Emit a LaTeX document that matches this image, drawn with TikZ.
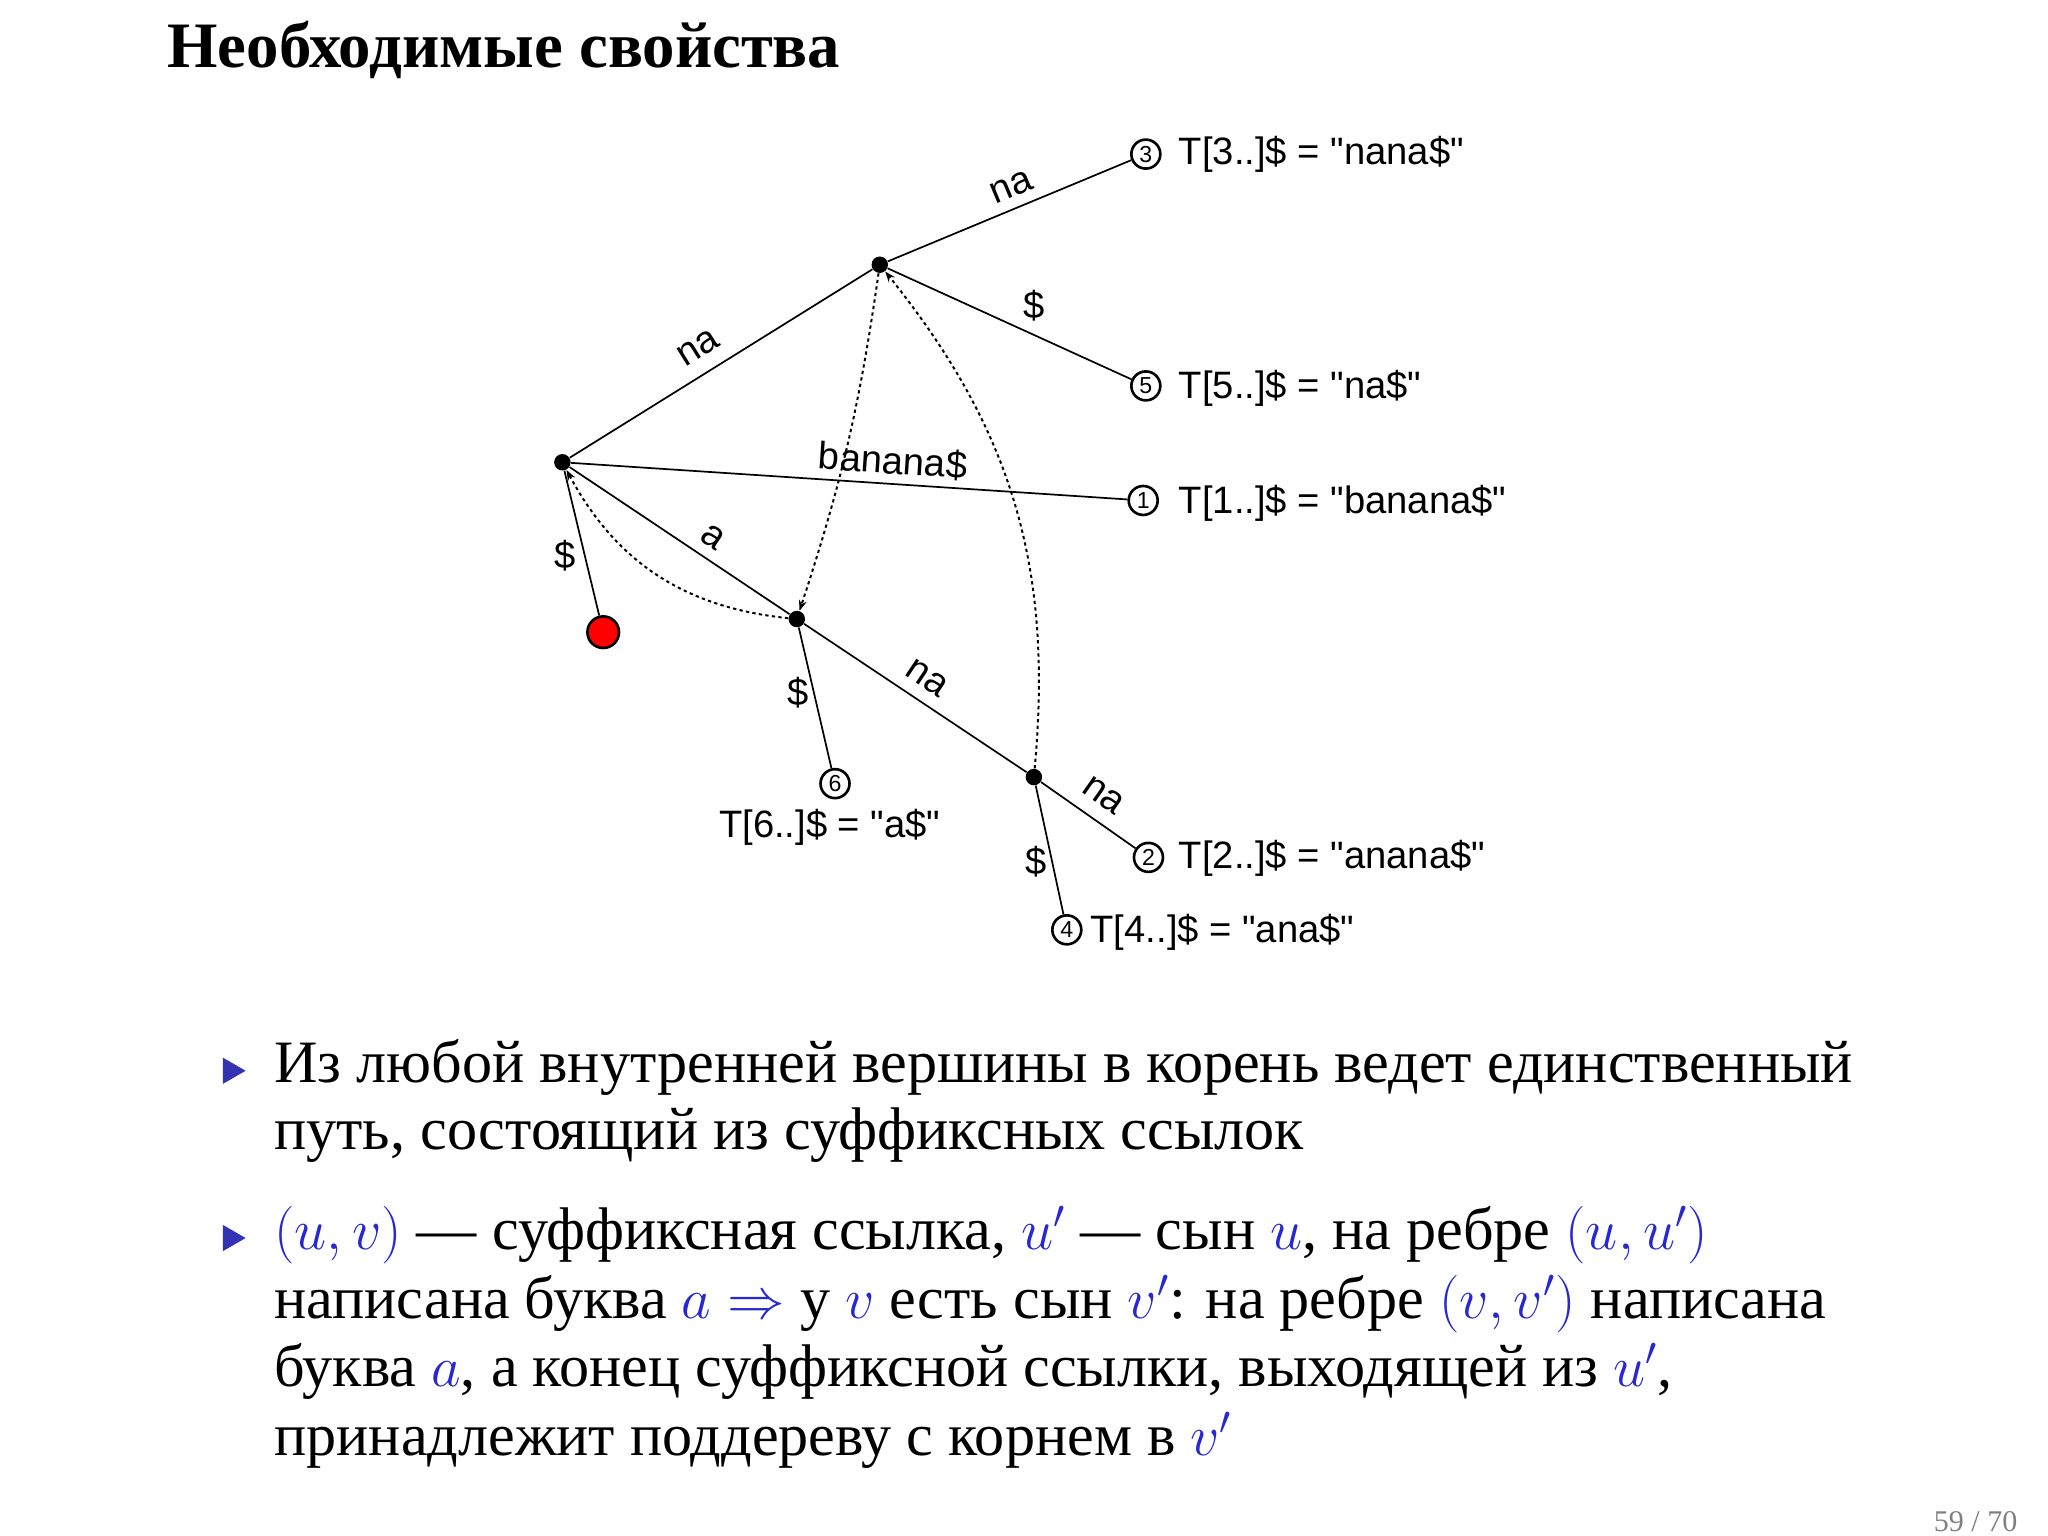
\documentclass[tikz,border=0pt]{standalone}
\usepackage{fontspec}
\setmainfont{Liberation Serif}
\newfontfamily\lsans{Liberation Sans}
\usetikzlibrary{arrows.meta,shapes.geometric}
\definecolor{bl}{RGB}{40,40,210}
\definecolor{tri}{RGB}{51,51,179}
\newcommand{\bm}[1]{{\color{bl}$#1$}}
\tikzset{
 dot/.style={circle,fill=black,inner sep=0pt,minimum size=0.25cm},
 leaf/.style={circle,draw,line width=0.04cm,inner sep=0pt,minimum size=0.44cm,font=\lsans\fontsize{10}{10}\selectfont},
 lab/.style={font=\lsans\fontsize{16.5}{18}\selectfont,inner sep=1pt},
 edge/.style={line width=0.026cm},
 link/.style={dash pattern=on 0.05cm off 0.05cm,line width=0.03cm,-{Stealth[length=0.16cm,width=0.12cm]}},
 body/.style={anchor=base west,font=\fontsize{26}{30}\selectfont,inner sep=0pt},
 bul/.style={fill=tri,draw=none,regular polygon,regular polygon sides=3,shape border rotate=-90,inner sep=0pt,minimum size=0.46cm}
}
\begin{document}
\begin{tikzpicture}[x=0.02cm,y=-0.02cm]
\useasboundingbox (0,0) rectangle (1555,1166);
\node[anchor=west,font=\bfseries\fontsize{28}{32}\selectfont] (title) at (121,38) {Необходимые свойства};
% nodes
\node[dot] (r) at (427,351) {};
\node[dot] (A) at (668,201) {};
\node[dot] (B) at (605,470) {};
\node[dot] (C) at (785,590) {};
\node[leaf] (l3) at (870,117) {3};
\node[leaf] (l5) at (870,293) {5};
\node[leaf] (l1) at (868,380) {1};
\node[leaf] (l6) at (634,595) {6};
\node[leaf] (l2) at (872,651) {2};
\node[leaf] (l4) at (810,706) {4};
\node[circle,draw,fill=red,line width=0.04cm,minimum size=0.48cm,inner sep=0pt] (red) at (458,480) {};
\draw[edge] (r)--(A); \draw[edge] (A)--(l3); \draw[edge] (A)--(l5);
\draw[edge] (r)--(l1); \draw[edge] (r)--(B); \draw[edge] (r)--(red);
\draw[edge] (B)--(l6); \draw[edge] (B)--(C); \draw[edge] (C)--(l2); \draw[edge] (C)--(l4);
% links
\draw[link] (A) to[bend left=5] (B);
\draw[link] (C) to[bend right=22] (A);
\draw[link] (B) to[bend left=28] (r);
% edge labels
\node[lab,rotate=22.6] (e1) at (768,142) {na};
\node[lab] (e2) at (785,232) {\$};
\node[lab,rotate=32] (e3) at (530,264) {na};
\node[lab,rotate=-3.8] (e4) at (678,350) {banana\$};
\node[lab,rotate=-33.8] (e5) at (541,408) {a};
\node[lab] (e6) at (429,422) {\$};
\node[lab] (e7) at (606,526) {\$};
\node[lab,rotate=-33.8] (e8) at (704,515) {na};
\node[lab,rotate=-35] (e9) at (838,604) {na};
\node[lab] (e10) at (787,654) {\$};
% leaf labels
\node[lab,anchor=west] (t3) at (893,117) {T[3..]\$ = "nana\$"};
\node[lab,anchor=west] (t5) at (893,295) {T[5..]\$ = "na\$"};
\node[lab,anchor=west] (t1) at (893,382) {T[1..]\$ = "banana\$"};
\node[lab] (t6) at (630,628) {T[6..]\$ = "a\$"};
\node[lab,anchor=west] (t2) at (893,652) {T[2..]\$ = "anana\$"};
\node[lab,anchor=west] (t4) at (826,708) {T[4..]\$ = "ana\$"};
% bullets
\node[bul] (b1) at (175,813) {};
\node[bul] (b2) at (175,940) {};
\node[body] (p1) at (208,822) {Из любой внутренней вершины в корень ведет единственный};
\node[body] (p2) at (208,873) {путь, состоящий из суффиксных ссылок};
\node[body] (p3) at (208,949) {\bm{(u,v)} — суффиксная ссылка, \bm{u'} — сын \bm{u}, на ребре \bm{(u,u')}};
\node[body] (p4) at (208,1001) {написана буква \bm{a\Rightarrow} у \bm{v} есть сын \bm{v'}: на ребре \bm{(v,v')} написана};
\node[body] (p5) at (208,1053) {буква \bm{a}, а конец суффиксной ссылки, выходящей из \bm{u'},};
\node[body] (p6) at (208,1105) {принадлежит поддереву с корнем в \bm{v'}};
\node[anchor=east,text=black!50,font=\fontsize{13}{15}\selectfont] (pg) at (1538,1155) {59 / 70};
\end{tikzpicture}
\end{document}
